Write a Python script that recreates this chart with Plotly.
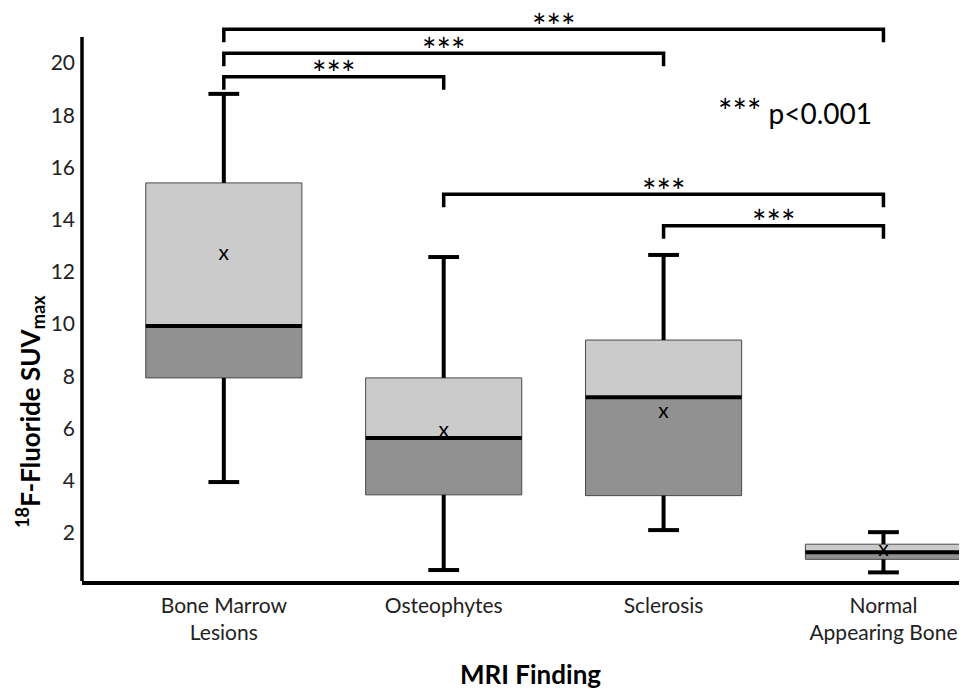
import plotly.graph_objects as go

categories = ["Bone Marrow<br>Lesions", "Osteophytes", "Sclerosis", "Normal<br>Appearing Bone"]
whisker_low = [3.95, 0.58, 2.11, 0.49]
q1 = [7.94, 3.46, 3.43, 0.99]
median = [9.93, 5.64, 7.20, 1.26]
q3 = [15.41, 7.94, 9.39, 1.57]
whisker_high = [18.82, 12.57, 12.65, 2.03]
mean = [12.65, 5.89, 6.62, 1.30]

bracket_pairs = [(0, 1), (0, 2), (0, 3), (1, 3), (2, 3)]
bracket_heights = [19.48, 20.38, 21.30, 14.98, 13.77]
bracket_label = "***"
p_note = "<span style='font-size:34px'>***</span> p<0.001"
y_ticks = [2, 4, 6, 8, 10, 12, 14, 16, 18, 20]

FONT = "Lato"
pos = list(range(len(categories)))
box_w = 0.71
cap_w = 0.07
drop = 0.5

fig = go.Figure()

# boxes: lower half dark, upper half light
fig.add_trace(go.Bar(
    x=pos, base=q1, y=[m - a for m, a in zip(median, q1)], width=box_w,
    marker=dict(color="#919191", line=dict(color="#4a4a4a", width=1)),
    showlegend=False, hoverinfo="skip"))
fig.add_trace(go.Bar(
    x=pos, base=median, y=[b - m for b, m in zip(q3, median)], width=box_w,
    marker=dict(color="#cbcbcb", line=dict(color="#4a4a4a", width=1)),
    showlegend=False, hoverinfo="skip"))

# whiskers: stems and caps
wx, wy = [], []
for i, lo, a, b, hi in zip(pos, whisker_low, q1, q3, whisker_high):
    wx += [i, i, None, i, i, None, i - cap_w, i + cap_w, None, i - cap_w, i + cap_w, None]
    wy += [b, hi, None, lo, a, None, hi, hi, None, lo, lo, None]
fig.add_trace(go.Scatter(x=wx, y=wy, mode="lines", line=dict(color="black", width=4),
                         showlegend=False, hoverinfo="skip"))

# medians
mx, my = [], []
for i, m in zip(pos, median):
    mx += [i - box_w / 2, i + box_w / 2, None]
    my += [m, m, None]
fig.add_trace(go.Scatter(x=mx, y=my, mode="lines", line=dict(color="black", width=4),
                         showlegend=False, hoverinfo="skip"))

# means
fig.add_trace(go.Scatter(x=pos, y=mean, mode="text", text=["x"] * len(pos),
                         textfont=dict(family=FONT, size=21, color="black"),
                         showlegend=False, hoverinfo="skip"))

# significance brackets
for (a, b), h in zip(bracket_pairs, bracket_heights):
    fig.add_trace(go.Scatter(x=[a, a, b, b], y=[h - drop, h, h, h - drop], mode="lines",
                             line=dict(color="black", width=3.5),
                             showlegend=False, hoverinfo="skip"))
    fig.add_annotation(x=(a + b) / 2, y=h, text=bracket_label, showarrow=False,
                       yanchor="middle", yshift=4,
                       font=dict(family=FONT, size=34, color="black"))

fig.add_annotation(x=2.597, y=18.2, text=p_note, showarrow=False,
                   font=dict(family=FONT, size=28, color="black"))

# y axis line (partial height)
fig.add_shape(type="line", xref="x domain", yref="y", x0=0, x1=0, y0=0.16, y1=21.0,
              line=dict(color="black", width=3.5))

# axis titles
fig.add_annotation(xref="paper", yref="paper", x=-0.0588, y=0.2967, textangle=-90,
                   xanchor="center", yanchor="middle",
                   text="<b><sup>18</sup>F-Fluoride SUV<sub>max</sub></b>", showarrow=False,
                   font=dict(family=FONT, size=26, color="black"))
fig.add_annotation(xref="x", yref="paper", x=1.397, y=0, yshift=-93, yanchor="middle",
                   text="<b>MRI Finding</b>", showarrow=False,
                   font=dict(family=FONT, size=26, color="black"))

fig.update_layout(
    width=959, height=682,
    margin=dict(l=74, r=0, t=0, b=109, autoexpand=False),
    plot_bgcolor="white", paper_bgcolor="white",
    barmode="overlay", showlegend=False,
    font=dict(family=FONT, color="#222"),
)
fig.update_xaxes(range=[-0.645, 3.38], tickvals=pos, ticktext=categories,
                 showgrid=False, zeroline=False, showline=True, linecolor="black",
                 linewidth=3.5, ticks="", ticklabelstandoff=3, automargin=False,
                 tickfont=dict(family=FONT, size=21, color="#222"))
fig.update_yaxes(range=[0.16, 22.11], tickvals=y_ticks, showgrid=False, zeroline=False,
                 showline=False, ticks="", ticklabelstandoff=6, automargin=False,
                 tickfont=dict(family=FONT, size=21, color="#222"))

fig.write_html("out.html")
